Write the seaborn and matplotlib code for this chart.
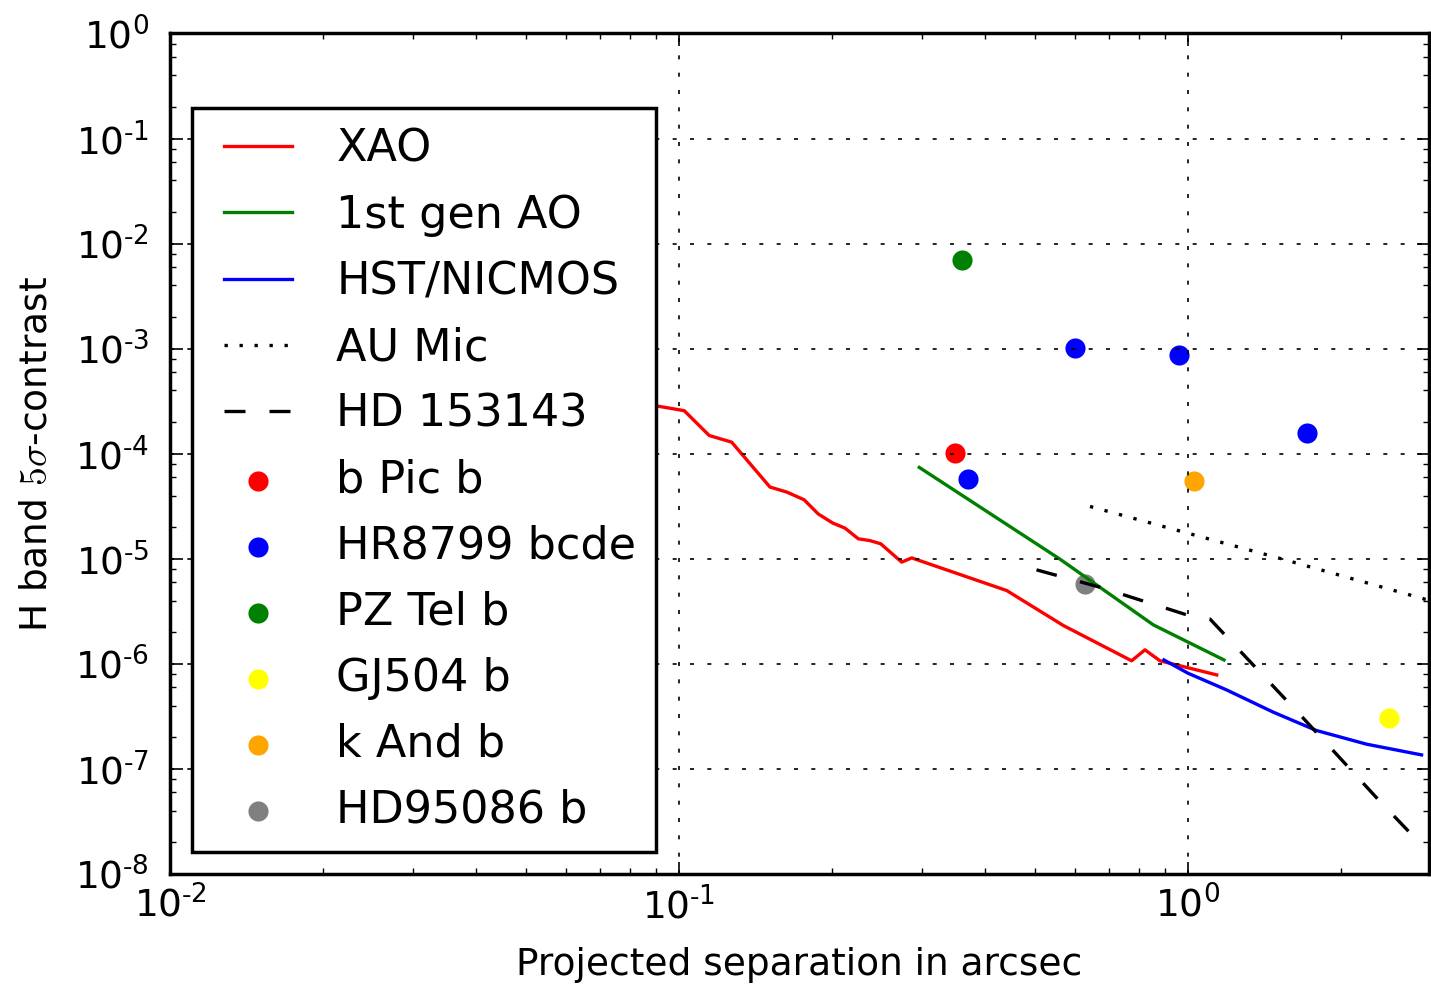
import matplotlib
matplotlib.use("Agg")
import matplotlib.pyplot as plt
from matplotlib.lines import Line2D
from matplotlib.collections import PathCollection
from matplotlib.legend_handler import HandlerLine2D, HandlerPathCollection
from matplotlib.ticker import LogLocator, FuncFormatter, NullFormatter
import numpy as np
import seaborn as sns

# contrast curves, separation in arcsec
xao_sep = [0.085, 0.1024, 0.1147, 0.1269, 0.1509, 0.1628, 0.1761, 0.1878, 0.2005, 0.2119,
           0.2251, 0.2373, 0.2491, 0.2739, 0.2866, 0.4404, 0.5689, 0.775, 0.8233, 0.881, 1.139]
xao_con = [3.0e-4, 2.57e-4, 1.49e-4, 1.29e-4, 4.82e-5, 4.32e-5, 3.65e-5, 2.67e-5, 2.19e-5, 1.96e-5,
           1.55e-5, 1.49e-5, 1.39e-5, 9.3e-6, 1.02e-5, 4.99e-6, 2.32e-6, 1.07e-6, 1.36e-6, 1.07e-6, 7.85e-7]

ao1_sep = [0.2966, 0.5604, 0.855, 1.177]
ao1_con = [7.41e-5, 9.93e-6, 2.35e-6, 1.09e-6]

hst_sep = [0.897, 1.0, 1.191, 1.471, 1.789, 2.244, 2.877]
hst_con = [1.09e-6, 8.15e-7, 5.65e-7, 3.47e-7, 2.32e-7, 1.72e-7, 1.36e-7]

aumic_sep = [0.642, 1.504, 2.92, 3.0]
aumic_con = [3.15e-5, 1.02e-5, 4.13e-6, 4.0e-6]

hd153_sep = [0.504, 0.671, 0.994, 1.105, 1.685, 2.376, 2.73]
hd153_con = [7.85e-6, 5.37e-6, 2.93e-6, 2.67e-6, 3.04e-7, 4.99e-8, 2.47e-8]

# known companions
bpic_sep, bpic_con = [0.3485], [1.02e-4]
hr8799_sep = [0.3697, 0.600, 0.960, 1.713]
hr8799_con = [5.78e-5, 1.02e-3, 8.77e-4, 1.58e-4]
pztel_sep, pztel_con = [0.36], [7.04e-3]
gj504_sep, gj504_con = [2.48], [3.06e-7]
kand_sep, kand_con = [1.027], [5.53e-5]
hd95086_sep, hd95086_con = [0.627], [5.78e-6]

plt.rcParams['font.family'] = ['DejaVu Sans']
plt.rcParams['mathtext.fontset'] = 'cm'
plt.rcParams['axes.unicode_minus'] = False
plt.rcParams['axes.axisbelow'] = False

fig = plt.figure(figsize=(14.31, 9.85), dpi=100)
ax = fig.add_axes([0.1188, 0.1127, 0.8795, 0.8533])

lw = 2.4
sns.lineplot(x=xao_sep, y=xao_con, color='r', lw=lw, sort=False, estimator=None, label='XAO', ax=ax)
sns.lineplot(x=ao1_sep, y=ao1_con, color='g', lw=lw, sort=False, estimator=None, label='1st gen AO', ax=ax)
sns.lineplot(x=hst_sep, y=hst_con, color='b', lw=lw, sort=False, estimator=None, label='HST/NICMOS', ax=ax)
sns.lineplot(x=aumic_sep, y=aumic_con, color='k', lw=lw, sort=False, estimator=None,
             linestyle=(0, (1, 3.5)), label='AU Mic', ax=ax)
sns.lineplot(x=hd153_sep, y=hd153_con, color='k', lw=lw, sort=False, estimator=None,
             linestyle=(0, (6.3, 7.2)), label='HD 153143', ax=ax)

pts = [
    (bpic_sep, bpic_con, 'red', 'b Pic b'),
    (hr8799_sep, hr8799_con, 'blue', 'HR8799 bcde'),
    (pztel_sep, pztel_con, 'green', 'PZ Tel b'),
    (gj504_sep, gj504_con, 'yellow', 'GJ504 b'),
    (kand_sep, kand_con, 'orange', 'k And b'),
    (hd95086_sep, hd95086_con, 'gray', 'HD95086 b'),
]
for sx, sy, c, lab in pts:
    sns.scatterplot(x=sx, y=sy, color=c, s=210, linewidth=0, label=lab, ax=ax)

ax.set_xscale('log')
ax.set_yscale('log')
ax.set_xlim(0.01, 2.97)
ax.set_ylim(1e-8, 1)

ax.xaxis.set_major_locator(LogLocator(base=10, numticks=20))
ax.xaxis.set_minor_locator(LogLocator(base=10, subs=np.arange(2, 10), numticks=20))
ax.yaxis.set_major_locator(LogLocator(base=10, numticks=20))
ax.yaxis.set_minor_locator(LogLocator(base=10, subs=[2, 4, 6, 8], numticks=20))


def fmt(v, pos):
    e = int(round(np.log10(v)))
    if e < 0:
        return r'$\mathdefault{10^{\text{-}%d}}$' % (-e)
    return r'$\mathdefault{10^{%d}}$' % e


ax.xaxis.set_major_formatter(FuncFormatter(fmt))
ax.yaxis.set_major_formatter(FuncFormatter(fmt))
ax.xaxis.set_minor_formatter(NullFormatter())
ax.yaxis.set_minor_formatter(NullFormatter())

ax.tick_params(which='both', direction='in', top=True, right=True, colors='k', labelsize=27)
ax.tick_params(which='major', length=9, width=1.2)
ax.tick_params(which='minor', length=4.5, width=1.0)
ax.tick_params(axis='x', which='major', pad=9)
ax.tick_params(axis='y', which='major', pad=15)
for sp in ax.spines.values():
    sp.set_linewidth(2.5)
    sp.set_color('k')

ax.grid(True, which='major', color='k', linestyle=(0, (2.4, 8.0)), linewidth=1.2)

ax.set_xlabel('Projected separation in arcsec', fontsize=27, labelpad=15)
ax.set_ylabel(r'H band $5\sigma$-contrast', fontsize=27, labelpad=15)

# shift handles right inside the legend box
hmap = {Line2D: HandlerLine2D(xpad=0.27), PathCollection: HandlerPathCollection(xpad=0.27)}
leg = ax.legend(loc='lower left', bbox_to_anchor=(0.0175, 0.0262), borderaxespad=0,
                fontsize=32, scatterpoints=1, numpoints=1, handlelength=1.8,
                handletextpad=1.0, borderpad=0.45, labelspacing=0.52, fancybox=False,
                framealpha=1, edgecolor='k', handler_map=hmap)
leg.get_frame().set_linewidth(2.5)

fig.savefig('out.png', dpi=100)
